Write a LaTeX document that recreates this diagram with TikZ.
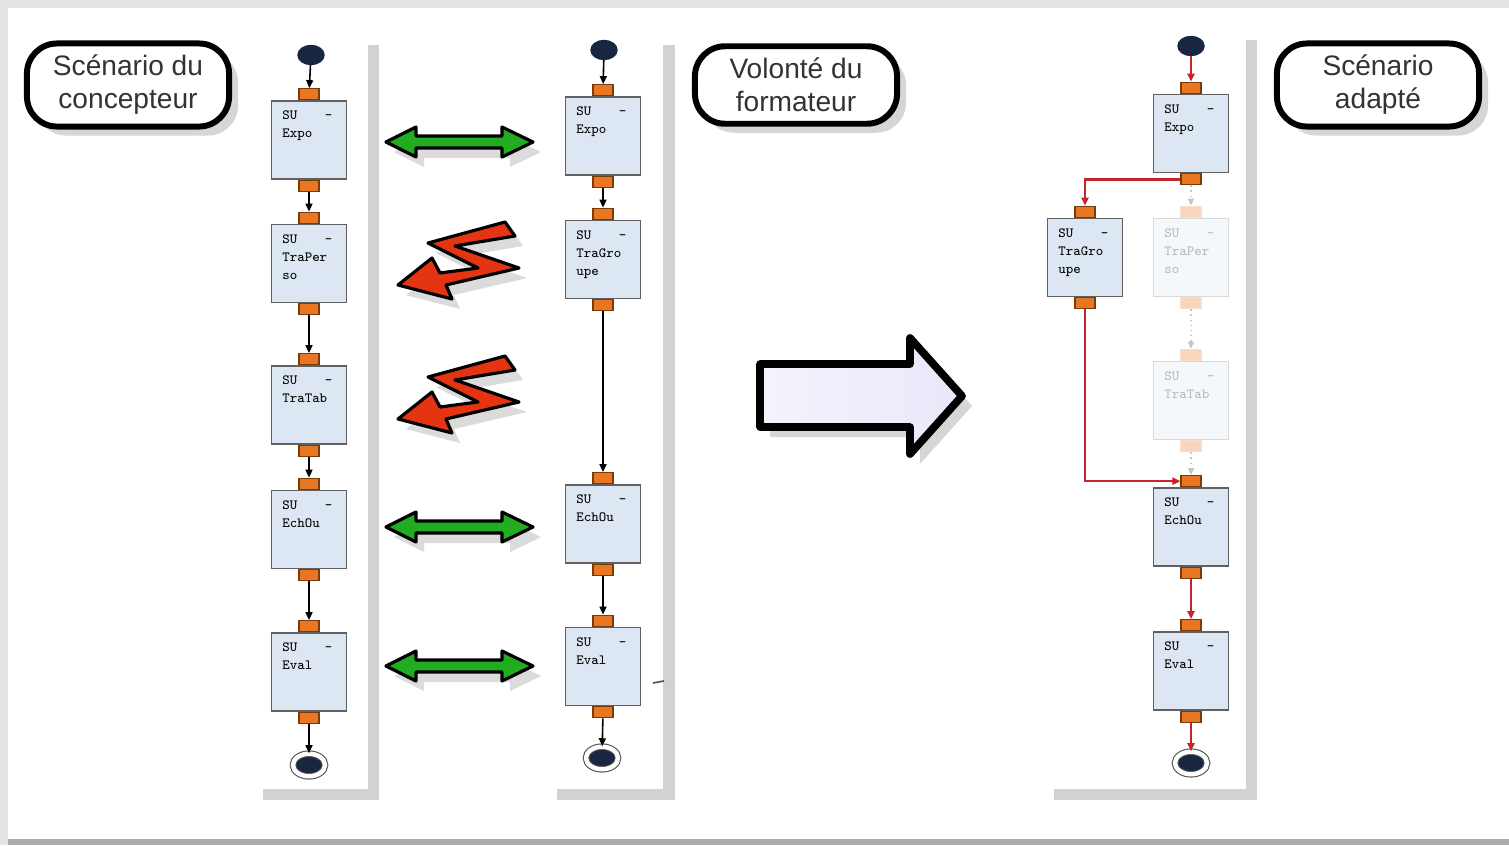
\documentclass[tikz,border=0pt]{standalone}
\usepackage{fontspec}
\setmainfont{Liberation Sans}
\usetikzlibrary{positioning,shapes.geometric,arrows.meta,shadows}

\definecolor{navy}{RGB}{24,38,66}
\definecolor{boxblue}{RGB}{221,231,243}
\definecolor{portorange}{RGB}{232,118,34}
\definecolor{portdark}{RGB}{120,60,10}
\definecolor{lanegray}{RGB}{210,210,210}
\definecolor{linkred}{RGB}{196,38,44}
\definecolor{okgreen}{RGB}{34,172,34}
\definecolor{zapred}{RGB}{228,52,18}
\definecolor{lavender}{RGB}{232,232,250}

\tikzset{
  sutxt/.style={anchor=north west, inner sep=0pt, xshift=0.11cm, yshift=-0.10cm,
    text width=0.5cm, align=left, font=\ttfamily\fontsize{4}{5.1}\selectfont},
  su/.style={draw=gray!75!black, fill=boxblue, line width=0.45pt, inner sep=0pt,
    minimum width=0.75cm, minimum height=0.78cm, label={[sutxt]north west:#1}},
  ghostsu/.style={draw=gray!30, fill=boxblue!30, line width=0.45pt, inner sep=0pt,
    minimum width=0.75cm, minimum height=0.78cm, label={[sutxt, text=gray!55]north west:#1}},
  port/.style={draw=portdark, fill=portorange, line width=0.3pt, inner sep=0pt,
    minimum width=0.2cm, minimum height=0.11cm},
  ghostport/.style={draw=portorange!25, fill=portorange!30, line width=0.3pt, inner sep=0pt,
    minimum width=0.2cm, minimum height=0.11cm},
  start/.style={ellipse, draw=navy, fill=navy, inner sep=0pt,
    minimum width=0.26cm, minimum height=0.19cm},
  stop/.style={ellipse, draw=gray!60!black, double=white, double distance=0.045cm,
    line width=0.3pt, fill=navy, inner sep=0pt, minimum width=0.32cm, minimum height=0.225cm},
  flow/.style={draw=black, line width=0.45pt, -{Triangle[length=0.08cm,width=0.07cm]}},
  redflow/.style={draw=linkred, line width=0.7pt, -{Triangle[length=0.08cm,width=0.07cm]}},
  ghostflow/.style={draw=gray!45, densely dotted, line width=0.45pt,
    -{Triangle[length=0.07cm,width=0.06cm]}},
  title/.style={draw=black, line width=1.7pt, rounded corners=0.3cm, fill=white,
    minimum width=2.02cm, minimum height=0.75cm, align=center, text=black!80,
    font=\fontsize{8}{9.4}\selectfont,
    drop shadow={shadow xshift=0.09cm, shadow yshift=-0.09cm, fill=gray!70, opacity=0.45}},
  matcharrow/.style={draw=black, fill=okgreen, line width=0.9pt, line join=round,
    drop shadow={shadow xshift=0.08cm, shadow yshift=-0.1cm, fill=gray!70, opacity=0.4}},
  clash/.style={draw=black, fill=zapred, line width=0.9pt, line join=round,
    drop shadow={shadow xshift=0.08cm, shadow yshift=-0.1cm, fill=gray!70, opacity=0.4}},
  lane/.style={fill=lanegray}
}

\begin{document}
\begin{tikzpicture}[x=0.01cm,y=-0.01cm]
  \useasboundingbox (0,0) rectangle (1509,845);
  % frame
  \fill[gray!22] (0,0) rectangle (1509,845);
  \fill[white] (8,8) rectangle (1509,839);
  \fill[gray!65] (8,839) rectangle (1509,845);

  % swimlanes
  \fill[lane] (368,45) rectangle (379,800);
  \fill[lane] (263,789) rectangle (379,800);
  \fill[lane] (663,45) rectangle (675,800);
  \fill[lane] (557,789) rectangle (675,800);
  \fill[lane] (1246,40) rectangle (1257,800);
  \fill[lane] (1054,789) rectangle (1257,800);

  % titles
  \node[title] (t1) at (128,85) {Scénario du\\concepteur};
  \node[title] (t2) at (796,85) {Volonté du\\formateur};
  \node[title] (t3) at (1378,85) {Scénario\\adapté};

  % scenario du concepteur
  \node[start] (a0) at (311,55) {};
  \node[su={SU\hfill-\\Expo}] (a1) at (309,140) {};
  \node[su={SU\hfill-\\TraPer\\so}] (a2) at (309,263.5) {};
  \node[su={SU\hfill-\\TraTab}] (a3) at (309,405) {};
  \node[su={SU\hfill-\\EchOu}] (a4) at (309,529.5) {};
  \node[su={SU\hfill-\\Eval}] (a5) at (309,672) {};
  \node[stop] (aE) at (309,765) {};
  \node[port, above=0pt of a1] (a1t) {};
  \node[port, below=0pt of a1] (a1b) {};
  \node[port, above=0pt of a2] (a2t) {};
  \node[port, below=0pt of a2] (a2b) {};
  \node[port, above=0pt of a3] (a3t) {};
  \node[port, below=0pt of a3] (a3b) {};
  \node[port, above=0pt of a4] (a4t) {};
  \node[port, below=0pt of a4] (a4b) {};
  \node[port, above=0pt of a5] (a5t) {};
  \node[port, below=0pt of a5] (a5b) {};
  \draw[flow] (a0) -- (a1t);
  \draw[flow] (a1b) -- (a2t);
  \draw[flow] (a2b) -- (a3t);
  \draw[flow] (a3b) -- (a4t);
  \draw[flow] (a4b) -- (a5t);
  \draw[flow] (a5b) -- (aE);

  % volonte du formateur
  \node[start] (b0) at (604,50) {};
  \node[su={SU\hfill-\\Expo}] (b1) at (603,136) {};
  \node[su={SU\hfill-\\TraGro\\upe}] (b2) at (603,259.5) {};
  \node[su={SU\hfill-\\EchOu}] (b3) at (603,524) {};
  \node[su={SU\hfill-\\Eval}] (b4) at (603,666.5) {};
  \node[stop] (bE) at (602,758) {};
  \node[port, above=0pt of b1] (b1t) {};
  \node[port, below=0pt of b1] (b1b) {};
  \node[port, above=0pt of b2] (b2t) {};
  \node[port, below=0pt of b2] (b2b) {};
  \node[port, above=0pt of b3] (b3t) {};
  \node[port, below=0pt of b3] (b3b) {};
  \node[port, above=0pt of b4] (b4t) {};
  \node[port, below=0pt of b4] (b4b) {};
  \draw[flow] (b0) -- (b1t);
  \draw[flow] (b1b) -- (b2t);
  \draw[flow] (b2b) -- (b3t);
  \draw[flow] (b3b) -- (b4t);
  \draw[flow] (b4b) -- (bE);
  \draw[gray!70!black, line width=0.5pt] (653,683) -- (664,681);

  % scenario adapte
  \node[start] (c0) at (1191,46) {};
  \node[su={SU\hfill-\\Expo}] (c1) at (1191,133.5) {};
  \node[ghostsu={SU\hfill-\\TraPer\\so}] (c2) at (1191,257.5) {};
  \node[ghostsu={SU\hfill-\\TraTab}] (c3) at (1191,400.5) {};
  \node[su={SU\hfill-\\EchOu}] (c4) at (1191,527) {};
  \node[su={SU\hfill-\\Eval}] (c5) at (1191,671) {};
  \node[su={SU\hfill-\\TraGro\\upe}] (cg) at (1085,257.5) {};
  \node[stop] (cE) at (1191,763) {};
  \node[port, above=0pt of c1] (c1t) {};
  \node[port, below=0pt of c1] (c1b) {};
  \node[ghostport, above=0pt of c2] (c2t) {};
  \node[ghostport, below=0pt of c2] (c2b) {};
  \node[ghostport, above=0pt of c3] (c3t) {};
  \node[ghostport, below=0pt of c3] (c3b) {};
  \node[port, above=0pt of c4] (c4t) {};
  \node[port, below=0pt of c4] (c4b) {};
  \node[port, above=0pt of c5] (c5t) {};
  \node[port, below=0pt of c5] (c5b) {};
  \node[port, above=0pt of cg] (cgt) {};
  \node[port, below=0pt of cg] (cgb) {};
  \draw[ghostflow] (c1b) -- (c2t);
  \draw[ghostflow] (c2b) -- (c3t);
  \draw[ghostflow] (c3b) -- (c4t);
  \draw[redflow] (c0) -- (c1t);
  \draw[redflow] (c1b) -| (cgt);
  \draw[redflow] (cgb) |- (c4t);
  \draw[redflow] (c4b) -- (c5t);
  \draw[redflow] (c5b) -- (cE);

  % correspondances
  \draw[matcharrow] (386,142) -- (416,127) -- (416,136) -- (502,136) -- (502,127)
    -- (533,142) -- (502,157) -- (502,148) -- (416,148) -- (416,157) -- cycle;
  \draw[matcharrow, shift={(0,385)}] (386,142) -- (416,127) -- (416,136) -- (502,136) -- (502,127)
    -- (533,142) -- (502,157) -- (502,148) -- (416,148) -- (416,157) -- cycle;
  \draw[matcharrow, shift={(0,524)}] (386,142) -- (416,127) -- (416,136) -- (502,136) -- (502,127)
    -- (533,142) -- (502,157) -- (502,148) -- (416,148) -- (416,157) -- cycle;
  \draw[clash] (428,243) -- (505,222) -- (515,236) -- (455,246) -- (519,268) -- (446,285)
    -- (452,299) -- (398,285) -- (432,258) -- (440,273) -- (478,268) -- cycle;
  \draw[clash, shift={(0,134)}] (428,243) -- (505,222) -- (515,236) -- (455,246) -- (519,268) -- (446,285)
    -- (452,299) -- (398,285) -- (432,258) -- (440,273) -- (478,268) -- cycle;

  % adaptation
  \draw[line width=2.2pt, line join=round, left color=lavender!50, right color=lavender,
    drop shadow={shadow xshift=0.1cm, shadow yshift=-0.1cm, fill=gray!70, opacity=0.45}]
    (760,364) -- (910,364) -- (910,338) -- (962,396) -- (910,454) -- (910,427) -- (760,427) -- cycle;
\end{tikzpicture}
\end{document}
